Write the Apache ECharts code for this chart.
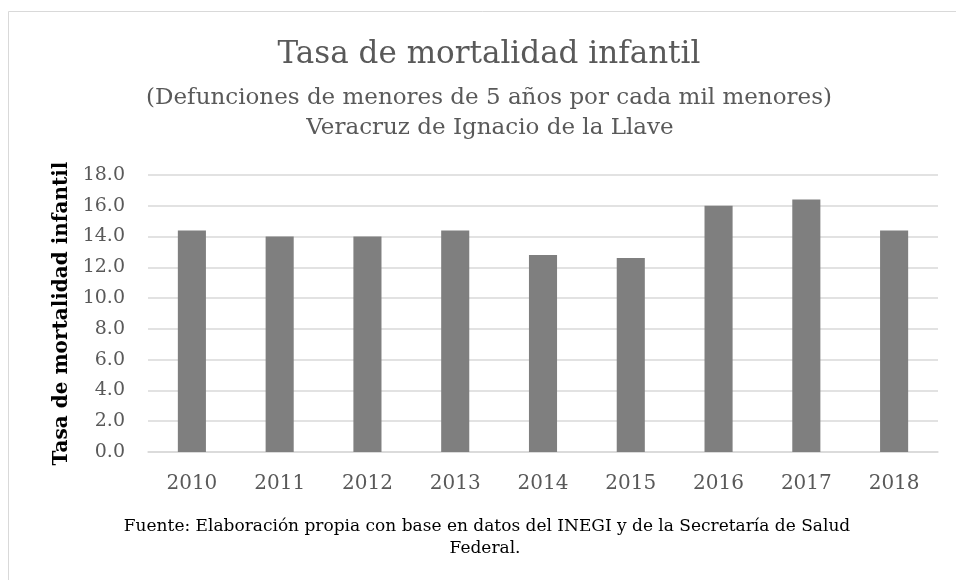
<!DOCTYPE html>
<html>
<head>
<meta charset="utf-8">
<title>Tasa de mortalidad infantil</title>
<script src="https://cdn.jsdelivr.net/npm/echarts@6/dist/echarts.min.js"></script>
<style>
  html, body { margin: 0; padding: 0; background: #ffffff; }
  #chart { width: 956px; height: 580px; }
</style>
</head>
<body>
<div id="chart"></div>
<script>
// Infant mortality rate, Veracruz, 2010-2018
const years = ['2010', '2011', '2012', '2013', '2014', '2015', '2016', '2017', '2018'];
const rates = [14.4, 14.0, 14.0, 14.4, 12.8, 12.6, 16.0, 16.4, 14.4];

const titleLines = [
  'Tasa de mortalidad infantil',
  '(Defunciones de menores de 5 años por cada mil menores)',
  'Veracruz de Ignacio de la Llave'
];
const axisTitle = 'Tasa de mortalidad infantil';
const sourceLines = [
  'Fuente: Elaboración propia con base en datos del INEGI y de la Secretaría de Salud',
  'Federal.'
];

const serif = '"DejaVu Serif", "Liberation Serif", serif';

function centeredText(text, x, y, size, color) {
  return {
    type: 'text',
    silent: true,
    x: x,
    y: y,
    style: {
      text: text,
      fontFamily: serif,
      fontSize: size,
      fill: color,
      align: 'center',
      verticalAlign: 'middle'
    }
  };
}

const chart = echarts.init(document.getElementById('chart'), null, { renderer: 'canvas' });

chart.setOption({
  backgroundColor: '#ffffff',
  animation: false,
  graphic: [
    {
      type: 'rect',
      silent: true,
      shape: { x: 8.5, y: 11.5, width: 980, height: 600 },
      style: { fill: 'none', stroke: '#d9d9d9', lineWidth: 1 }
    },
    centeredText(titleLines[0], 489, 55, 31, '#595959'),
    centeredText(titleLines[1], 489, 98, 23, '#595959'),
    centeredText(titleLines[2], 490, 128, 23, '#595959'),
    centeredText(sourceLines[0], 487, 527, 17, '#000000'),
    centeredText(sourceLines[1], 485, 549, 17, '#000000')
  ],
  grid: { left: 148, right: 18, top: 175, bottom: 128, containLabel: false },
  xAxis: {
    type: 'category',
    data: years,
    axisLine: { show: true, lineStyle: { color: '#d9d9d9', width: 1.5 } },
    axisTick: { show: false },
    axisLabel: { fontFamily: serif, fontSize: 20, color: '#595959', margin: 22 }
  },
  yAxis: {
    type: 'value',
    min: 0,
    max: 18,
    interval: 2,
    name: axisTitle,
    nameLocation: 'middle',
    nameGap: 70,
    nameTextStyle: { fontFamily: serif, fontSize: 20, fontWeight: 'bold', color: '#000000' },
    axisLine: { show: false },
    axisTick: { show: false },
    axisLabel: {
      fontFamily: serif,
      fontSize: 19,
      color: '#595959',
      margin: 23,
      formatter: v => v.toFixed(1)
    },
    splitLine: { lineStyle: { color: '#d9d9d9', width: 1.5 } }
  },
  series: [
    {
      type: 'bar',
      data: rates,
      barWidth: '32%',
      itemStyle: { color: '#7f7f7f' }
    }
  ]
});
</script>
</body>
</html>
